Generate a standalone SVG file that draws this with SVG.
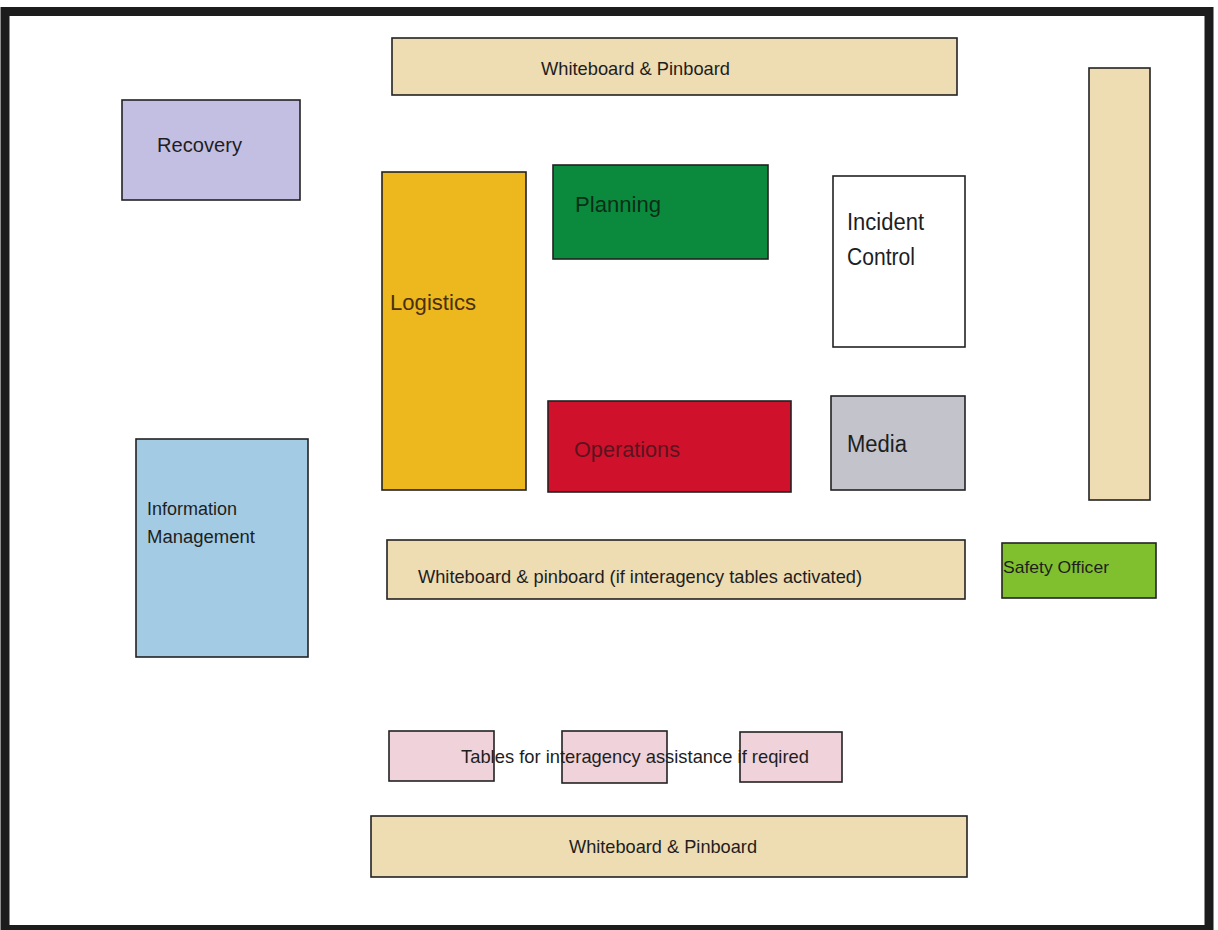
<svg xmlns="http://www.w3.org/2000/svg" width="1218" height="930" viewBox="0 0 1218 930">
<style>
.b{stroke:#222;stroke-width:1.6}
.wb{fill:#eedcb2}
.t{font-family:"Liberation Sans",Arial,sans-serif;fill:#1e1e1e}
</style>
<rect x="0" y="0" width="1218" height="930" fill="#fff"/>
<rect id="frame" x="5" y="11.5" width="1204" height="918" fill="#fff" stroke="#1c1c1c" stroke-width="9"/>
<g id="whiteboard-top"><rect class="b wb" x="392" y="38" width="565" height="57"/><text class="t" x="541" y="75" font-size="19" textLength="189" lengthAdjust="spacingAndGlyphs">Whiteboard &amp; Pinboard</text></g>
<g id="recovery"><rect class="b" fill="#c3bfe3" x="122" y="100" width="178" height="100"/><text class="t" x="157" y="152" font-size="21" textLength="85" lengthAdjust="spacingAndGlyphs">Recovery</text></g>
<g id="logistics"><rect class="b" fill="#ecb81e" x="382" y="172" width="144" height="318"/><text class="t" x="390" y="310" font-size="22" style="fill:#4a3010" textLength="86" lengthAdjust="spacingAndGlyphs">Logistics</text></g>
<g id="planning"><rect class="b" fill="#0b8a3e" x="553" y="165" width="215" height="94"/><text class="t" x="575" y="212" font-size="22" style="fill:#0a2e16" textLength="86" lengthAdjust="spacingAndGlyphs">Planning</text></g>
<g id="incident-control"><rect class="b" fill="#fff" x="833" y="176" width="132" height="171"/><text class="t" x="847" y="230" font-size="23" textLength="77" lengthAdjust="spacingAndGlyphs">Incident</text><text class="t" x="847" y="265" font-size="23" textLength="68" lengthAdjust="spacingAndGlyphs">Control</text></g>
<g id="whiteboard-right"><rect class="b wb" x="1089" y="68" width="61" height="432"/></g>
<g id="operations"><rect class="b" fill="#d0112b" x="548" y="401" width="243" height="91"/><text class="t" x="574" y="457" font-size="22" style="fill:#5a1420" textLength="106" lengthAdjust="spacingAndGlyphs">Operations</text></g>
<g id="media"><rect class="b" fill="#c3c3cb" x="831" y="396" width="134" height="94"/><text class="t" x="847" y="452" font-size="23" textLength="60" lengthAdjust="spacingAndGlyphs">Media</text></g>
<g id="information-management"><rect class="b" fill="#a3cce4" x="136" y="439" width="172" height="218"/><text class="t" x="147" y="515" font-size="18" textLength="90" lengthAdjust="spacingAndGlyphs">Information</text><text class="t" x="147" y="543" font-size="18" textLength="108" lengthAdjust="spacingAndGlyphs">Management</text></g>
<g id="whiteboard-middle"><rect class="b wb" x="387" y="540" width="578" height="59"/><text class="t" x="418" y="583" font-size="19" textLength="444" lengthAdjust="spacingAndGlyphs">Whiteboard &amp; pinboard (if interagency tables activated)</text></g>
<g id="safety-officer"><rect class="b" fill="#80c02e" x="1002" y="543" width="154" height="55"/><text class="t" x="1003" y="573" font-size="17" textLength="106" lengthAdjust="spacingAndGlyphs">Safety Officer</text></g>
<g id="tables">
<rect fill="#efd2da" x="389" y="731" width="105" height="50"/>
<rect fill="#efd2da" x="562" y="731" width="105" height="52"/>
<rect fill="#efd2da" x="740" y="732" width="102" height="50"/>
<text class="t" x="461" y="763" font-size="19" textLength="348" lengthAdjust="spacingAndGlyphs">Tables for interagency assistance if reqired</text>
<rect class="b" fill="none" x="389" y="731" width="105" height="50"/>
<rect class="b" fill="none" x="562" y="731" width="105" height="52"/>
<rect class="b" fill="none" x="740" y="732" width="102" height="50"/>
</g>
<g id="whiteboard-bottom"><rect class="b wb" x="371" y="816" width="596" height="61"/><text class="t" x="569" y="853" font-size="19" textLength="188" lengthAdjust="spacingAndGlyphs">Whiteboard &amp; Pinboard</text></g>
<g id="connectors"></g>
</svg>
